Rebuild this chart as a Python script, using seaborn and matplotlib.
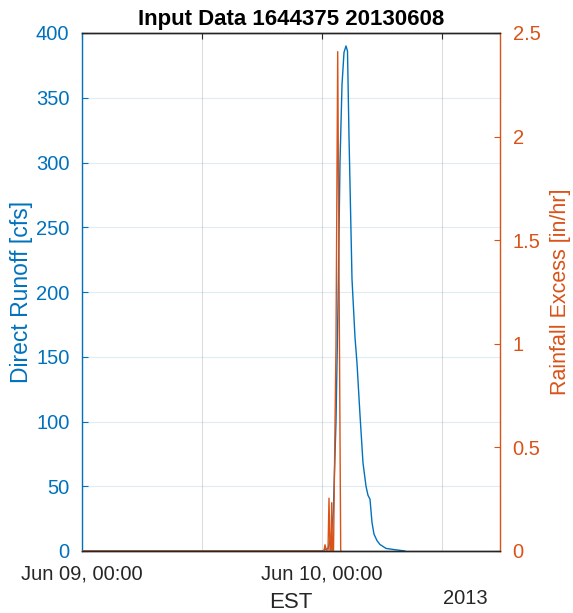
import pandas as pd
import matplotlib.pyplot as plt
import seaborn as sns

BLUE = "#0072BD"
ORANGE = "#D95319"
DARK = "#262626"

start = pd.Timestamp("2013-06-09 00:00")

# hours after Jun 09 00:00 EST
runoff_hours = [0.0, 24.0, 24.6, 24.9, 25.13, 25.4, 25.6, 25.8, 26.0, 26.2, 26.4,
                26.55, 26.7, 27.0, 27.3, 27.5, 27.8, 28.1, 28.4, 28.6, 28.8,
                29.0, 29.2, 29.5, 29.8, 30.4, 31.3, 31.8, 32.3]
runoff_cfs = [0, 0, 2, 10, 30, 100, 190, 300, 360, 385, 390,
              386, 320, 210, 165, 145, 105, 68, 50, 43, 40,
              22, 13, 8, 5, 2, 1, 0.5, 0]

rain_hours = [0.0, 24.2, 24.3, 24.45, 24.6, 24.7, 24.8, 24.9, 24.97, 25.05,
              25.15, 25.4, 25.57, 25.87, 25.9]
rain_inhr = [0, 0, 0.03, 0, 0, 0.255, 0, 0, 0.233, 0,
             0, 1.0, 2.41, 0, 0]

runoff = pd.DataFrame({"time": start + pd.to_timedelta(runoff_hours, unit="h"),
                       "runoff": runoff_cfs})
rain = pd.DataFrame({"time": start + pd.to_timedelta(rain_hours, unit="h"),
                     "rain": rain_inhr})

sns.set_style("white")
plt.rcParams["font.family"] = ["Liberation Sans", "DejaVu Sans"]

fig = plt.figure(figsize=(5.73, 6.13), dpi=100)
ax = fig.add_axes([82 / 573, 1 - 551 / 613, 418 / 573, 518 / 613])
ax2 = ax.twinx()

sns.lineplot(data=runoff, x="time", y="runoff", ax=ax, color=BLUE, linewidth=1.0)
sns.lineplot(data=rain, x="time", y="rain", ax=ax2, color=ORANGE, linewidth=1.0)

ax.set_xlim(start, start + pd.Timedelta(hours=41.8))
ax.set_ylim(0, 400)
ax2.set_ylim(0, 2.5)

xticks = [start + pd.Timedelta(hours=h) for h in [0, 12, 24, 36]]
ax.set_xticks(xticks)
ax.set_xticklabels(["Jun 09, 00:00", "", "Jun 10, 00:00", ""])
ax.set_yticks(range(0, 401, 50))
ax2.set_yticks([0, 0.5, 1, 1.5, 2, 2.5])
ax2.set_yticklabels(["0", "0.5", "1", "1.5", "2", "2.5"])

# grid
ax.grid(True, axis="y", color=BLUE, alpha=0.13, linewidth=0.8)
ax.grid(True, axis="x", color="#dddddd", linewidth=0.8)
ax2.grid(False)
ax.set_axisbelow(True)

# spines
for a in (ax, ax2):
    a.spines["top"].set_color(DARK)
    a.spines["bottom"].set_color(DARK)
    for s in a.spines.values():
        s.set_linewidth(1.0)
ax.spines["left"].set_color(BLUE)
ax.spines["right"].set_visible(False)
ax2.spines["right"].set_color(ORANGE)
ax2.spines["left"].set_visible(False)

ax.tick_params(axis="x", direction="in", length=4, top=True, colors=DARK,
               labelsize=14.5, pad=10)
ax.tick_params(axis="y", direction="in", length=4, colors=BLUE, labelsize=14.5, pad=9)
ax2.tick_params(axis="y", direction="in", length=4, colors=ORANGE, labelsize=14.5, pad=9)

ax.set_xlabel("EST", fontsize=16, color=DARK, labelpad=6)
ax.set_ylabel("Direct Runoff [cfs]", fontsize=16.5, color=BLUE, labelpad=2)
ax2.set_ylabel("Rainfall Excess [in/hr]", fontsize=15.5, color=ORANGE, labelpad=7)
ax.set_title("Input Data 1644375 20130608", fontsize=16, fontweight="bold",
             color="black", pad=6)
fig.text(465 / 573, 1 - 598 / 613, "2013", fontsize=14.5, color=DARK,
         ha="center", va="center")

fig.savefig("out.png", dpi=100)
